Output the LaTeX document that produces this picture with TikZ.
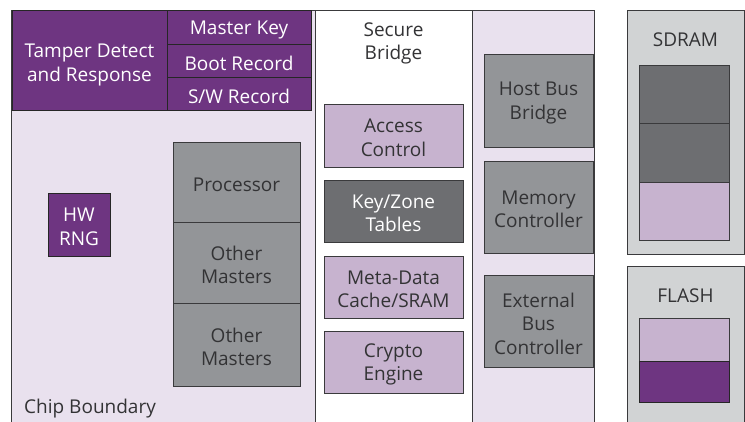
\documentclass[tikz,border=0pt]{standalone}
\usepackage{fontspec}
\setmainfont{Open Sans}
\definecolor{purp}{HTML}{6E3581}
\definecolor{lav}{HTML}{E9E1EE}
\definecolor{lpurp}{HTML}{C7B3CF}
\definecolor{mgray}{HTML}{939598}
\definecolor{dgray}{HTML}{6D6E71}
\definecolor{lgray}{HTML}{D1D3D4}
\definecolor{edge}{HTML}{3A3A3C}
\definecolor{ink}{HTML}{333335}
\tikzset{
  blk/.style={draw=edge, line width=0.9pt, inner sep=0pt, align=center,
    font=\fontsize{19}{23.5}\selectfont, text=ink},
  purpblk/.style={blk, fill=purp, text=white, draw=black!85},
  lpblk/.style={blk, fill=lpurp},
  grblk/.style={blk, fill=mgray},
  dgblk/.style={blk, fill=dgray, text=white},
  txtonly/.style={draw=none, fill=none, minimum width=0pt, minimum height=0pt},
  label/.style={align=center, inner sep=0pt, text=ink,
    font=\fontsize{19}{23.5}\selectfont},
}
% name, style, centre x, centre y, width, height, text, text drop
\newcommand{\blk}[8]{%
  \node[#2, minimum width=#5pt, minimum height=#6pt] (#1) at (#3,#4) {};
  \node[#2, txtonly, yshift=-#8pt] (#1-t) at (#1.center) {#7};}
\begin{document}
\begin{tikzpicture}[x=1pt, y=-1pt]
\useasboundingbox (0,0) rectangle (745,421);
\begin{scope}
\clip (0,0) rectangle (745,421);
% chip area and secure bridge column
\filldraw[fill=lav, draw=edge, line width=0.9pt] (11,430) -- (11,10) -- (594,10) -- (594,430);
\filldraw[fill=white, draw=edge, line width=0.9pt] (315,430) -- (315,10) -- (472,10) -- (472,430);
% external memories
\node[blk, fill=lgray, minimum width=117pt, minimum height=244pt] (sdram) at (685.5,132) {};
\node[blk, fill=lgray, minimum width=117pt, minimum height=170pt] (flash) at (685.5,351) {};
\end{scope}
% tamper block
\blk{tamper}{purpblk}{89.5}{60}{155}{100}{Tamper Detect\\and Response}{5}
\blk{mkey}{purpblk}{239}{27}{144}{34}{Master Key}{3}
\blk{boot}{purpblk}{239}{60.5}{144}{33}{Boot Record}{3}
\blk{swrec}{purpblk}{239}{93.5}{144}{33}{S/W Record}{3}
% random number generator
\blk{rng}{purpblk}{79}{224.5}{62}{63}{HW\\RNG}{2.5}
% bus masters
\blk{proc}{grblk}{236.5}{182}{127}{80}{Processor}{2.5}
\blk{oth1}{grblk}{236.5}{262.5}{127}{81}{Other\\Masters}{2.5}
\blk{oth2}{grblk}{236.5}{344.5}{127}{83}{Other\\Masters}{2.5}
% secure bridge
\node[label] (sbtitle) at (393.5,43.5) {Secure\\Bridge};
\blk{access}{lpblk}{393.5}{135.5}{139}{63}{Access\\Control}{2.5}
\blk{keyzone}{dgblk}{393.5}{211}{139}{62}{Key/Zone\\Tables}{2.5}
\blk{meta}{lpblk}{393.5}{287}{139}{62}{Meta-Data\\Cache/SRAM}{2.5}
\blk{crypto}{lpblk}{393.5}{362}{139}{62}{Crypto\\Engine}{2.5}
% bus side
\blk{host}{grblk}{538.5}{100.5}{109}{93}{Host Bus\\Bridge}{2.5}
\blk{memctl}{grblk}{538.5}{207}{109}{92}{Memory\\Controller}{2.5}
\blk{extbus}{grblk}{538.5}{321}{109}{92}{External\\Bus\\Controller}{2.5}
% SDRAM contents
\node[label] (sdt) at (685.5,40) {SDRAM};
\blk{sd1}{dgblk}{684}{94}{90}{58}{}{0}
\blk{sd2}{dgblk}{684}{152.5}{90}{59}{}{0}
\blk{sd3}{lpblk}{684}{211}{90}{58}{}{0}
% FLASH contents
\node[label] (flt) at (685.5,296) {FLASH};
\blk{fl1}{lpblk}{684}{339.5}{90}{43}{}{0}
\blk{fl2}{purpblk}{684}{381.5}{90}{41}{}{0}
% caption
\node[label, anchor=west] (chip) at (24,409) {Chip Boundary};
\end{tikzpicture}
\end{document}
